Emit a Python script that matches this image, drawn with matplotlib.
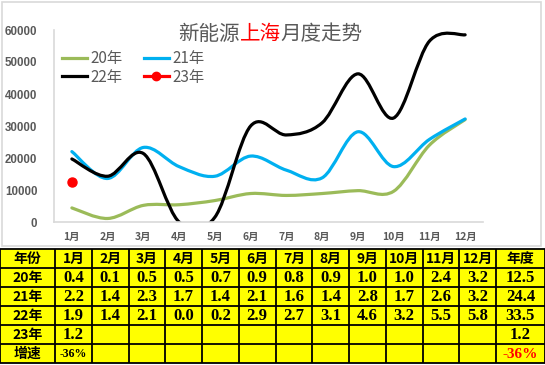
import matplotlib
matplotlib.use("Agg")
import matplotlib.pyplot as plt
from matplotlib.path import Path
from matplotlib.patches import PathPatch, Rectangle
from matplotlib.lines import Line2D

# ---------------- data ----------------
months = ['1月', '2月', '3月', '4月', '5月', '6月', '7月', '8月', '9月', '10月', '11月', '12月']
s20 = [4400, 1100, 5200, 5400, 6700, 8900, 8300, 8900, 9800, 9600, 24000, 32000]
s21 = [22000, 13600, 23300, 17300, 14300, 20600, 16200, 13800, 28200, 17300, 25800, 32200]
s22 = [19700, 14300, 21400, 0, 1500, 30000, 27200, 31000, 46300, 32500, 56500, 58500]
s23 = [12600]
series_names = ['20年', '21年', '22年', '23年']
series_colors = ['#9BBB59', '#00B0F0', '#000000', '#FF0000']
yticks = [0, 10000, 20000, 30000, 40000, 50000, 60000]

title_parts = ['新能源', '上海', '月度走势']

table_header = ['年份'] + months + ['年度']
table_rows = [
    ['20年', '0.4', '0.1', '0.5', '0.5', '0.7', '0.9', '0.8', '0.9', '1.0', '1.0', '2.4', '3.2', '12.5'],
    ['21年', '2.2', '1.4', '2.3', '1.7', '1.4', '2.1', '1.6', '1.4', '2.8', '1.7', '2.6', '3.2', '24.4'],
    ['22年', '1.9', '1.4', '2.1', '0.0', '0.2', '2.9', '2.7', '3.1', '4.6', '3.2', '5.5', '5.8', '33.5'],
    ['23年', '1.2', '', '', '', '', '', '', '', '', '', '', '', '1.2'],
    ['增速', '-36%', '', '', '', '', '', '', '', '', '', '', '', '-36%'],
]

W, H = 545, 365
fig = plt.figure(figsize=(W / 100, H / 100), dpi=100)
fig.patch.set_facecolor('white')

GRAY = '#595959'
CJK = ['Noto Sans CJK SC', 'DejaVu Sans']

# chart frame (pixel axes over the whole figure)
bg = fig.add_axes([0, 0, 1, 1], zorder=0)
bg.set_xlim(0, W)
bg.set_ylim(H, 0)
bg.axis('off')
bg.add_patch(Rectangle((2, 2), 539, 244, fill=False, edgecolor='#D9D9D9', lw=1.2))

# ---------------- chart ----------------
left, right, top, bottom = 54, 483, 30, 222
ax = fig.add_axes([left / W, 1 - bottom / H, (right - left) / W, (bottom - top) / H], zorder=2)
ax.patch.set_alpha(0)
ax.set_xlim(-0.5, 11.5)
ax.set_ylim(0, 60000)
for s in ['top', 'right']:
    ax.spines[s].set_visible(False)
for s in ['left', 'bottom']:
    ax.spines[s].set_color('#D9D9D9')
    ax.spines[s].set_linewidth(1.2)
ax.set_yticks(yticks)
ax.set_yticklabels([str(v) for v in yticks], fontfamily='Liberation Sans', fontweight='bold',
                   fontsize=8.3, color=GRAY)
ax.set_xticks(range(len(months)))
ax.set_xticklabels(months, fontfamily=CJK, fontweight='bold', fontsize=7.5, color=GRAY)
ax.tick_params(axis='y', length=0, pad=12)
ax.tick_params(axis='x', length=0, pad=7)


def smooth_path(ys):
    xs = list(range(len(ys)))
    pts = list(zip(xs, ys))
    n = len(pts)
    verts = [pts[0]]
    codes = [Path.MOVETO]
    for i in range(n - 1):
        p0 = pts[i - 1] if i > 0 else pts[i]
        p1 = pts[i]
        p2 = pts[i + 1]
        p3 = pts[i + 2] if i + 2 < n else pts[i + 1]
        c1 = (p1[0] + (p2[0] - p0[0]) / 6, p1[1] + (p2[1] - p0[1]) / 6)
        c2 = (p2[0] - (p3[0] - p1[0]) / 6, p2[1] - (p3[1] - p1[1]) / 6)
        verts += [c1, c2, p2]
        codes += [Path.CURVE4] * 3
    return Path(verts, codes)


for ys, col in zip([s20, s21, s22], series_colors[:3]):
    patch = PathPatch(smooth_path(ys), facecolor='none', edgecolor=col, lw=2.3,
                      capstyle='round', joinstyle='round', transform=ax.transData)
    ax.add_patch(patch)
ax.plot(range(len(s23)), s23, color=series_colors[3], marker='o', markersize=6.5, lw=2.3)

handles = [Line2D([], [], color=series_colors[0], lw=2.3),
           Line2D([], [], color=series_colors[2], lw=2.3),
           Line2D([], [], color=series_colors[1], lw=2.3),
           Line2D([], [], color=series_colors[3], lw=2.3, marker='o', markersize=6)]
labels = [series_names[0], series_names[2], series_names[1], series_names[3]]
leg = fig.legend(handles, labels, loc='upper left', bbox_to_anchor=(62 / W, 1 - 50 / H),
                 ncol=2, frameon=False, prop={'family': CJK, 'size': 11},
                 handlelength=1.65, handletextpad=0.2, columnspacing=1.4, labelspacing=0.1,
                 borderaxespad=0, borderpad=0)
for t in leg.get_texts():
    t.set_color(GRAY)

# title
tx = 178
ty = 34
char_w = 20.5
cols = [GRAY, '#FF0000', GRAY]
for part, c in zip(title_parts, cols):
    bg.text(tx, ty, part, fontfamily=CJK, fontsize=14.8, fontweight='medium', color=c,
            ha='left', va='center')
    tx += char_w * len(part)

# ---------------- table ----------------
col_edges = [0, 55] + [55 + 36.75 * (i + 1) for i in range(12)] + [545]
row_top = 249
row_h = 19
nrows = 1 + len(table_rows)
bg.add_patch(Rectangle((0, row_top), W, row_h * nrows, facecolor='#FFFF00', edgecolor='none', zorder=1))
for r in range(nrows + 1):
    y = row_top + r * row_h
    bg.plot([0, W], [y, y], color='black', lw=1.3, zorder=3, solid_capstyle='butt')
for x in col_edges:
    bg.plot([x, x], [row_top, row_top + nrows * row_h], color='black', lw=1.3, zorder=3,
            solid_capstyle='butt')

all_rows = [table_header] + table_rows
for r, row in enumerate(all_rows):
    yc = row_top + r * row_h + row_h / 2 + 0.5
    for c, val in enumerate(row):
        if not val:
            continue
        xc = (col_edges[c] + col_edges[c + 1]) / 2
        is_cjk = any(ord(ch) > 0x2E80 for ch in val)
        color = 'black'
        size = 12
        if '%' in val:
            if c == len(row) - 1:
                color = '#FF0000'
                size = 11
            else:
                size = 8.5
        if is_cjk:
            bg.text(xc, yc, val, fontfamily=CJK, fontweight='bold', fontsize=10,
                    color=color, ha='center', va='center', zorder=4)
        else:
            bg.text(xc, yc, val, fontfamily='Liberation Serif', fontweight='bold', fontsize=size,
                    color=color, ha='center', va='center', zorder=4)

fig.savefig('out.png', dpi=100)
